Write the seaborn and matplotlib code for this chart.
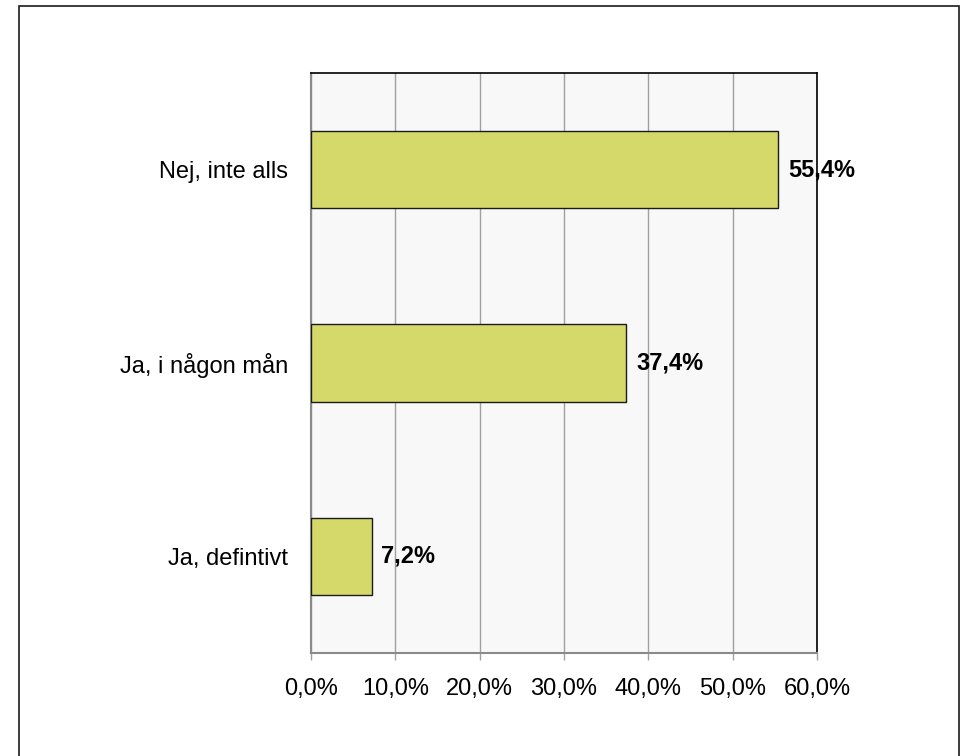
import matplotlib
matplotlib.use("Agg")
import matplotlib.pyplot as plt
import seaborn as sns
import pandas as pd
from matplotlib.patches import Rectangle

categories = ["Nej, inte alls", "Ja, i någon mån", "Ja, defintivt"]
values = [55.4, 37.4, 7.2]
value_labels = ["55,4%", "37,4%", "7,2%"]
tick_values = [0, 10, 20, 30, 40, 50, 60]
tick_labels = ["0,0%", "10,0%", "20,0%", "30,0%", "40,0%", "50,0%", "60,0%"]

sns.set_theme(style="white")
plt.rcParams['font.family'] = ['Liberation Sans', 'DejaVu Sans']

W, H = 961, 756
fig = plt.figure(figsize=(W / 100, H / 100), dpi=100)
ax = fig.add_axes([311 / W, 1 - 653 / H, (817 - 311) / W, (653 - 73) / H])

df = pd.DataFrame({"cat": categories, "val": values})
sns.barplot(data=df, x="val", y="cat", orient="h", color="#d4d96a",
            saturation=1, width=0.4, edgecolor="#1a1a1a", linewidth=1.0, ax=ax, zorder=3)

ax.set_facecolor("#f8f8f8")
ax.set_xlim(0, 60)
ax.set_ylim(2.5, -0.5)
ax.set_xticks(tick_values)
ax.set_xticklabels(tick_labels, fontsize=17, color="black")
ax.set_yticklabels(categories, fontsize=17, color="black")
ax.set_xlabel("")
ax.set_ylabel("")
ax.xaxis.grid(True, color="#a0a0a0", linewidth=1.0, zorder=0)
ax.set_axisbelow(True)
ax.tick_params(axis="x", which="both", bottom=True, length=5, width=1, color="#a0a0a0", pad=13)
ax.tick_params(axis="y", which="both", left=False, length=0, pad=16.5)

for side in ["top", "right"]:
    ax.spines[side].set_color("black")
    ax.spines[side].set_linewidth(1.2)
for side in ["left", "bottom"]:
    ax.spines[side].set_color("#8a8a8a")
    ax.spines[side].set_linewidth(1.5)

for i, (v, lab) in enumerate(zip(values, value_labels)):
    ax.annotate(lab, xy=(v, i), xytext=(7, 0), textcoords="offset points",
                ha="left", va="center", fontsize=17, fontweight="bold",
                color="black", zorder=5, annotation_clip=False)

fig.patches.append(Rectangle((19 / W, -0.1), (959 - 19) / W, 1 - 6 / H + 0.1,
                             transform=fig.transFigure, fill=False,
                             edgecolor="#1a1a1a", linewidth=1.2))

fig.savefig("out.png", dpi=100, facecolor="white")
